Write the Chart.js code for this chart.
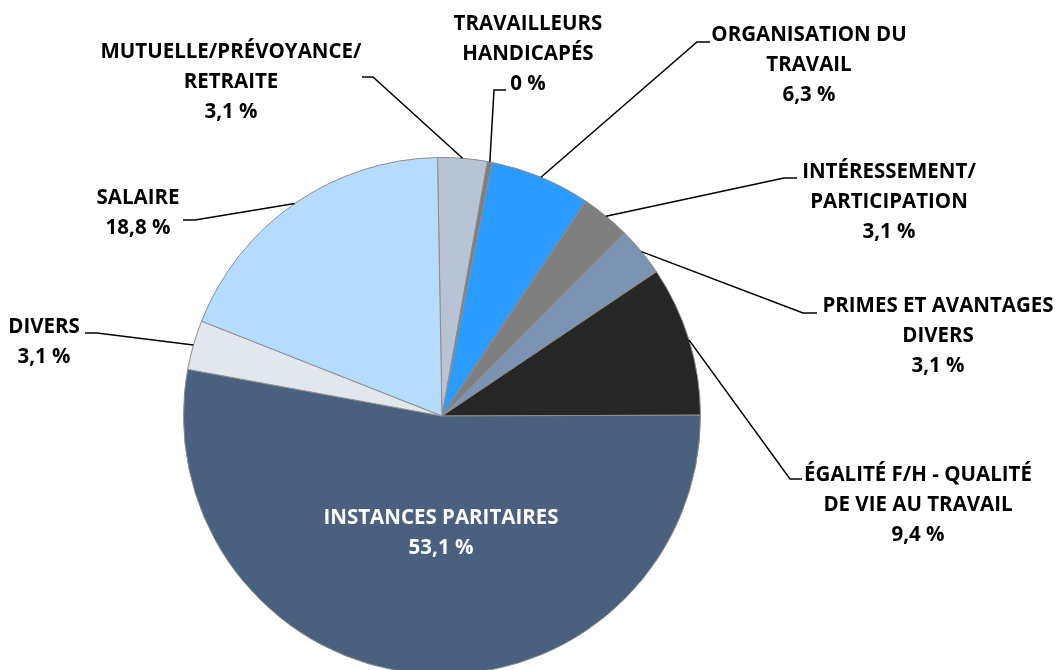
<!DOCTYPE html>
<html lang="fr">
<head>
<meta charset="utf-8">
<title>Répartition des thèmes</title>
<script src="https://cdn.jsdelivr.net/npm/chart.js@4.4.0/dist/chart.umd.min.js"></script>
<style>
  html, body { margin: 0; padding: 0; background: #fff; overflow: hidden; }
  #wrap { position: absolute; left: 0; top: 0; width: 1056px; height: 680px; }
</style>
</head>
<body>
<div id="wrap"><canvas id="pie"></canvas></div>
<script>
// Données (ordre horaire depuis le haut)
const categories = [
  ['MUTUELLE/PRÉVOYANCE/', 'RETRAITE'],
  ['TRAVAILLEURS', 'HANDICAPÉS'],
  ['ORGANISATION DU', 'TRAVAIL'],
  ['INTÉRESSEMENT/', 'PARTICIPATION'],
  ['PRIMES ET AVANTAGES', 'DIVERS'],
  ['ÉGALITÉ F/H - QUALITÉ', 'DE VIE AU TRAVAIL'],
  ['INSTANCES PARITAIRES'],
  ['DIVERS'],
  ['SALAIRE']
];
// 0 % s'affiche quand même comme un filet fin dans l'original
const values = [3.1, 0.3, 6.3, 3.1, 3.1, 9.4, 53.1, 3.1, 18.8];
const percentLabels = ['3,1 %', '0 %', '6,3 %', '3,1 %', '3,1 %', '9,4 %', '53,1 %', '3,1 %', '18,8 %'];
const sliceColors = ['#B8C4D6', '#7F7F7F', '#2B9CFF', '#7F7F7F', '#7B94B3', '#262626', '#4A607F', '#E2E7EE', '#B5DBFD'];

// Mise en page des étiquettes : centre du texte, coude et extrémité du trait de rappel
const labelLayout = [
  { x: 231, y: 52,  elbow: [373, 77],  end: [362, 77] },
  { x: 528, y: 24,  elbow: [494, 90],  end: [506, 90] },
  { x: 809, y: 35,  elbow: [697, 42],  end: [710, 42] },
  { x: 889, y: 172, elbow: [784, 178], end: [797, 178] },
  { x: 938, y: 306, elbow: [803, 313], end: [817, 313] },
  { x: 918, y: 475, elbow: [790, 479], end: [802, 479] },
  { x: 441, y: 518, inside: true },
  { x: 44,  y: 327, elbow: [97, 333],  end: [85, 333] },
  { x: 138, y: 198, elbow: [195, 220], end: [183, 220] }
];

const FONT = 'bold 20.5px "Open Sans", sans-serif';
const LINE_H = 30;

const pieLabels = {
  id: 'pieLabels',
  afterDatasetsDraw(chart) {
    const ctx = chart.ctx;
    const arcs = chart.getDatasetMeta(0).data;
    ctx.save();
    ctx.font = FONT;
    ctx.textAlign = 'center';
    ctx.textBaseline = 'middle';
    arcs.forEach((arc, i) => {
      const lay = labelLayout[i];
      const p = arc.getProps(['x', 'y', 'startAngle', 'endAngle', 'outerRadius'], true);
      if (!lay.inside) {
        const mid = (p.startAngle + p.endAngle) / 2;
        const sx = p.x + Math.cos(mid) * p.outerRadius;
        const sy = p.y + Math.sin(mid) * p.outerRadius;
        ctx.beginPath();
        ctx.strokeStyle = '#000';
        ctx.lineWidth = 1.5;
        ctx.moveTo(sx, sy);
        ctx.lineTo(lay.elbow[0], lay.elbow[1]);
        ctx.lineTo(lay.end[0], lay.end[1]);
        ctx.stroke();
      }
      ctx.fillStyle = lay.inside ? '#FFFFFF' : '#000000';
      const lines = categories[i].concat([percentLabels[i]]);
      lines.forEach((t, k) => ctx.fillText(t, lay.x, lay.y + k * LINE_H));
    });
    ctx.restore();
  }
};

new Chart(document.getElementById('pie'), {
  type: 'pie',
  data: {
    labels: categories.map(c => c.join(' ')),
    datasets: [{
      data: values,
      backgroundColor: sliceColors,
      borderColor: '#8C8C8C',
      borderWidth: 1
    }]
  },
  options: {
    responsive: true,
    maintainAspectRatio: false,
    animation: false,
    rotation: -1,
    layout: { padding: { left: 183, right: 355, top: 157, bottom: 5 } },
    plugins: {
      legend: { display: false },
      tooltip: { enabled: false }
    }
  },
  plugins: [pieLabels]
});
</script>
</body>
</html>
